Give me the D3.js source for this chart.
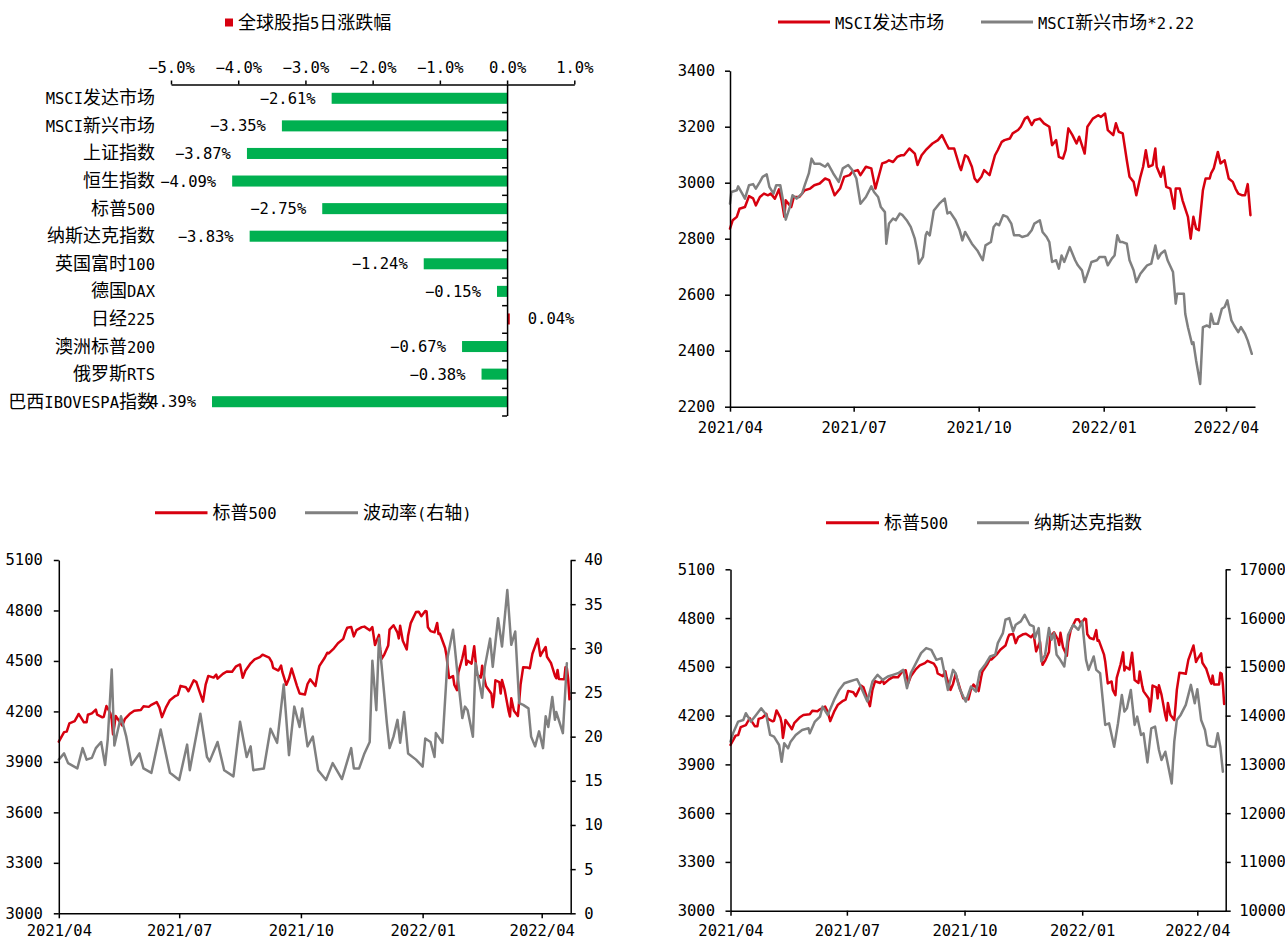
<!DOCTYPE html>
<html><head><meta charset="utf-8">
<script src="https://cdn.jsdelivr.net/npm/d3@7"></script>
<style>body{margin:0;background:#fff}svg{display:block}</style>
</head><body>
<svg id="c" width="1285" height="940"></svg>
<script>
// ---------------- DATA ----------------
const barTitle = "全球股指5日涨跌幅";
const barCategories = ["MSCI发达市场","MSCI新兴市场","上证指数","恒生指数","标普500","纳斯达克指数","英国富时100","德国DAX","日经225","澳洲标普200","俄罗斯RTS","巴西IBOVESPA指数"];
const barValues = [-2.61,-3.35,-3.87,-4.09,-2.75,-3.83,-1.24,-0.15,0.04,-0.67,-0.38,-4.39];
const barTicks = [-5,-4,-3,-2,-1,0,1];

const monthTicks = ["2021-04-01","2021-07-01","2021-10-01","2022-01-01","2022-04-01"];

const msciNames = ["MSCI发达市场","MSCI新兴市场*2.22"];
const msciTicks = [2200,2400,2600,2800,3000,3200,3400];
const msciDev = [["2021-04-01",2836],["2021-04-03",2866],["2021-04-06",2878],["2021-04-08",2907],["2021-04-12",2913],["2021-04-15",2952],["2021-04-18",2944],["2021-04-20",2919],["2021-04-23",2949],["2021-04-26",2961],["2021-04-29",2955],["2021-05-01",2961],["2021-05-04",2943],["2021-05-07",2976],["2021-05-09",2937],["2021-05-11",2878],["2021-05-12",2937],["2021-05-16",2913],["2021-05-18",2949],["2021-05-22",2949],["2021-05-26",2973],["2021-05-30",2979],["2021-06-02",2991],["2021-06-06",2997],["2021-06-10",3015],["2021-06-13",3009],["2021-06-17",2955],["2021-06-21",2979],["2021-06-24",3021],["2021-06-28",3027],["2021-06-30",3039],["2021-07-04",3045],["2021-07-06",3027],["2021-07-10",3057],["2021-07-14",3051],["2021-07-17",2979],["2021-07-20",3033],["2021-07-22",3069],["2021-07-25",3074],["2021-07-27",3080],["2021-07-30",3074],["2021-08-02",3092],["2021-08-05",3098],["2021-08-07",3098],["2021-08-11",3122],["2021-08-15",3104],["2021-08-17",3063],["2021-08-20",3098],["2021-08-23",3116],["2021-08-28",3140],["2021-09-01",3152],["2021-09-04",3170],["2021-09-07",3140],["2021-09-09",3122],["2021-09-13",3122],["2021-09-17",3057],["2021-09-18",3045],["2021-09-21",3098],["2021-09-23",3092],["2021-09-26",3057],["2021-09-28",3015],["2021-09-30",3003],["2021-10-03",3021],["2021-10-05",3045],["2021-10-09",3027],["2021-10-13",3098],["2021-10-15",3116],["2021-10-18",3146],["2021-10-20",3152],["2021-10-24",3158],["2021-10-26",3176],["2021-10-30",3188],["2021-11-01",3200],["2021-11-04",3229],["2021-11-06",3235],["2021-11-09",3206],["2021-11-11",3223],["2021-11-15",3229],["2021-11-18",3212],["2021-11-22",3200],["2021-11-24",3134],["2021-11-27",3152],["2021-11-29",3092],["2021-12-02",3086],["2021-12-04",3116],["2021-12-06",3194],["2021-12-09",3170],["2021-12-12",3140],["2021-12-14",3164],["2021-12-18",3104],["2021-12-20",3200],["2021-12-24",3229],["2021-12-28",3241],["2021-12-30",3235],["2022-01-02",3247],["2022-01-04",3188],["2022-01-08",3170],["2022-01-10",3212],["2022-01-12",3182],["2022-01-15",3176],["2022-01-18",3080],["2022-01-20",3021],["2022-01-23",3003],["2022-01-25",2955],["2022-01-28",3021],["2022-01-30",3057],["2022-02-01",3116],["2022-02-03",3057],["2022-02-06",3063],["2022-02-08",3122],["2022-02-09",3057],["2022-02-12",3021],["2022-02-14",3057],["2022-02-16",2985],["2022-02-19",2979],["2022-02-22",2907],["2022-02-23",2979],["2022-02-26",2979],["2022-02-28",2937],["2022-03-02",2907],["2022-03-04",2878],["2022-03-06",2800],["2022-03-08",2878],["2022-03-10",2836],["2022-03-12",2830],["2022-03-15",2973],["2022-03-17",3015],["2022-03-20",3015],["2022-03-21",3033],["2022-03-23",3051],["2022-03-26",3110],["2022-03-28",3069],["2022-03-31",3080],["2022-04-03",3015],["2022-04-06",3003],["2022-04-08",2979],["2022-04-10",2961],["2022-04-13",2955],["2022-04-15",2955],["2022-04-17",2995],["2022-04-19",2884]];
const msciEm = [["2021-04-01",2925],["2021-04-02",2967],["2021-04-06",2973],["2021-04-07",2987],["2021-04-10",2961],["2021-04-12",2943],["2021-04-15",2991],["2021-04-18",2995],["2021-04-20",2979],["2021-04-23",3003],["2021-04-25",3021],["2021-04-28",3030],["2021-04-30",2985],["2021-05-03",2961],["2021-05-05",2991],["2021-05-08",2991],["2021-05-10",2937],["2021-05-12",2868],["2021-05-15",2913],["2021-05-17",2955],["2021-05-20",2943],["2021-05-24",2961],["2021-05-26",2991],["2021-05-29",3033],["2021-05-31",3086],["2021-06-02",3068],["2021-06-06",3068],["2021-06-10",3057],["2021-06-12",3068],["2021-06-16",3033],["2021-06-20",3003],["2021-06-23",3051],["2021-06-27",3063],["2021-06-30",3045],["2021-07-03",3015],["2021-07-06",2925],["2021-07-10",2949],["2021-07-14",2987],["2021-07-16",2967],["2021-07-19",2949],["2021-07-21",2913],["2021-07-24",2895],["2021-07-25",2782],["2021-07-27",2854],["2021-07-30",2872],["2021-08-01",2866],["2021-08-04",2890],["2021-08-06",2884],["2021-08-09",2866],["2021-08-12",2842],["2021-08-15",2800],["2021-08-17",2752],["2021-08-18",2711],["2021-08-21",2735],["2021-08-23",2812],["2021-08-24",2824],["2021-08-26",2812],["2021-08-29",2901],["2021-09-02",2925],["2021-09-06",2943],["2021-09-08",2890],["2021-09-10",2895],["2021-09-14",2866],["2021-09-17",2830],["2021-09-19",2794],["2021-09-21",2824],["2021-09-26",2782],["2021-09-30",2758],["2021-10-04",2723],["2021-10-06",2776],["2021-10-10",2788],["2021-10-12",2842],["2021-10-14",2854],["2021-10-16",2848],["2021-10-19",2884],["2021-10-22",2878],["2021-10-25",2854],["2021-10-27",2812],["2021-10-31",2812],["2021-11-02",2806],["2021-11-06",2812],["2021-11-09",2830],["2021-11-11",2854],["2021-11-15",2866],["2021-11-17",2824],["2021-11-20",2806],["2021-11-22",2788],["2021-11-24",2717],["2021-11-27",2723],["2021-11-29",2693],["2021-12-01",2740],["2021-12-03",2717],["2021-12-07",2770],["2021-12-11",2723],["2021-12-13",2705],["2021-12-16",2687],["2021-12-18",2645],["2021-12-21",2687],["2021-12-23",2717],["2021-12-27",2723],["2021-12-29",2735],["2022-01-02",2735],["2022-01-04",2705],["2022-01-07",2729],["2022-01-09",2740],["2022-01-11",2812],["2022-01-13",2788],["2022-01-15",2788],["2022-01-18",2782],["2022-01-20",2723],["2022-01-23",2687],["2022-01-25",2645],["2022-01-28",2675],["2022-01-31",2693],["2022-02-02",2705],["2022-02-05",2711],["2022-02-08",2776],["2022-02-10",2729],["2022-02-12",2746],["2022-02-15",2758],["2022-02-17",2723],["2022-02-21",2681],["2022-02-23",2568],["2022-02-24",2603],["2022-02-27",2603],["2022-03-01",2603],["2022-03-02",2532],["2022-03-04",2484],["2022-03-07",2424],["2022-03-08",2430],["2022-03-10",2365],["2022-03-13",2281],["2022-03-15",2484],["2022-03-18",2490],["2022-03-20",2484],["2022-03-21",2532],["2022-03-23",2496],["2022-03-26",2496],["2022-03-29",2550],["2022-03-31",2556],["2022-04-02",2580],["2022-04-05",2508],["2022-04-07",2490],["2022-04-10",2466],["2022-04-12",2484],["2022-04-15",2460],["2022-04-17",2436],["2022-04-20",2389]];

const spNames = ["标普500","波动率(右轴)","纳斯达克指数"];
const spTicks = [3000,3300,3600,3900,4200,4500,4800,5100];
const vixTicks = [0,5,10,15,20,25,30,35,40];
const ndqTicks = [10000,11000,12000,13000,14000,15000,16000,17000];
const sp500 = [["2021-04-01",4020],["2021-04-05",4077],["2021-04-07",4080],["2021-04-09",4129],["2021-04-13",4142],["2021-04-15",4170],["2021-04-16",4185],["2021-04-20",4135],["2021-04-22",4135],["2021-04-23",4180],["2021-04-26",4188],["2021-04-29",4211],["2021-04-30",4181],["2021-05-04",4165],["2021-05-05",4168],["2021-05-07",4232],["2021-05-10",4188],["2021-05-11",4152],["2021-05-12",4063],["2021-05-13",4113],["2021-05-14",4173],["2021-05-18",4128],["2021-05-19",4116],["2021-05-21",4156],["2021-05-25",4188],["2021-05-28",4204],["2021-06-02",4208],["2021-06-04",4230],["2021-06-08",4227],["2021-06-10",4239],["2021-06-14",4255],["2021-06-16",4224],["2021-06-18",4166],["2021-06-21",4224],["2021-06-24",4267],["2021-06-28",4291],["2021-06-30",4298],["2021-07-02",4352],["2021-07-06",4344],["2021-07-08",4320],["2021-07-12",4385],["2021-07-14",4374],["2021-07-16",4327],["2021-07-19",4258],["2021-07-21",4359],["2021-07-23",4411],["2021-07-27",4401],["2021-07-29",4419],["2021-07-30",4395],["2021-08-03",4423],["2021-08-06",4437],["2021-08-10",4436],["2021-08-13",4468],["2021-08-16",4479],["2021-08-18",4400],["2021-08-20",4442],["2021-08-24",4486],["2021-08-27",4509],["2021-08-31",4523],["2021-09-02",4537],["2021-09-07",4520],["2021-09-09",4493],["2021-09-10",4459],["2021-09-14",4443],["2021-09-16",4473],["2021-09-17",4433],["2021-09-20",4358],["2021-09-22",4395],["2021-09-24",4455],["2021-09-28",4352],["2021-09-30",4307],["2021-10-04",4300],["2021-10-06",4363],["2021-10-08",4391],["2021-10-12",4351],["2021-10-14",4438],["2021-10-15",4471],["2021-10-19",4519],["2021-10-21",4549],["2021-10-22",4545],["2021-10-26",4575],["2021-10-29",4605],["2021-11-02",4631],["2021-11-04",4680],["2021-11-05",4697],["2021-11-08",4702],["2021-11-10",4646],["2021-11-12",4683],["2021-11-16",4701],["2021-11-18",4704],["2021-11-22",4682],["2021-11-24",4701],["2021-11-26",4595],["2021-11-29",4655],["2021-11-30",4567],["2021-12-01",4513],["2021-12-03",4538],["2021-12-06",4592],["2021-12-07",4686],["2021-12-10",4712],["2021-12-13",4668],["2021-12-14",4634],["2021-12-15",4709],["2021-12-17",4620],["2021-12-20",4568],["2021-12-21",4649],["2021-12-23",4725],["2021-12-27",4791],["2021-12-29",4793],["2021-12-31",4766],["2022-01-03",4797],["2022-01-04",4794],["2022-01-05",4700],["2022-01-07",4677],["2022-01-10",4670],["2022-01-12",4726],["2022-01-13",4660],["2022-01-14",4663],["2022-01-18",4577],["2022-01-19",4533],["2022-01-21",4398],["2022-01-24",4410],["2022-01-25",4357],["2022-01-27",4326],["2022-01-28",4432],["2022-01-31",4516],["2022-02-02",4589],["2022-02-03",4477],["2022-02-04",4501],["2022-02-07",4484],["2022-02-09",4587],["2022-02-10",4504],["2022-02-11",4419],["2022-02-14",4401],["2022-02-15",4472],["2022-02-17",4380],["2022-02-18",4349],["2022-02-22",4305],["2022-02-23",4225],["2022-02-24",4288],["2022-02-25",4385],["2022-02-28",4374],["2022-03-01",4306],["2022-03-02",4387],["2022-03-04",4329],["2022-03-07",4201],["2022-03-08",4170],["2022-03-09",4278],["2022-03-11",4204],["2022-03-14",4173],["2022-03-15",4262],["2022-03-16",4358],["2022-03-18",4463],["2022-03-21",4461],["2022-03-23",4457],["2022-03-25",4543],["2022-03-29",4631],["2022-03-31",4530],["2022-04-01",4546],["2022-04-04",4583],["2022-04-05",4525],["2022-04-07",4500],["2022-04-08",4488],["2022-04-11",4413],["2022-04-12",4397],["2022-04-13",4446],["2022-04-14",4392],["2022-04-18",4391],["2022-04-19",4463],["2022-04-20",4459],["2022-04-21",4394],["2022-04-22",4272]];
const vix = [["2021-04-01",17.4],["2021-04-05",18.1],["2021-04-08",17.0],["2021-04-15",16.4],["2021-04-19",18.7],["2021-04-22",17.4],["2021-04-26",17.6],["2021-04-29",18.7],["2021-05-03",19.4],["2021-05-06",16.8],["2021-05-08",19.7],["2021-05-11",27.6],["2021-05-13",19.0],["2021-05-18",22.3],["2021-05-22",20.0],["2021-05-26",16.8],["2021-06-01",18.1],["2021-06-04",16.4],["2021-06-10",15.9],["2021-06-17",20.8],["2021-06-24",15.9],["2021-07-01",15.1],["2021-07-07",19.1],["2021-07-09",16.2],["2021-07-17",22.6],["2021-07-22",17.7],["2021-07-24",17.2],["2021-07-30",19.4],["2021-08-04",16.2],["2021-08-11",15.5],["2021-08-16",21.7],["2021-08-21",17.7],["2021-08-24",18.9],["2021-08-26",16.2],["2021-09-03",16.4],["2021-09-08",20.9],["2021-09-13",19.3],["2021-09-18",25.9],["2021-09-22",17.9],["2021-09-26",23.4],["2021-09-30",21.1],["2021-10-02",23.2],["2021-10-06",18.9],["2021-10-10",20.0],["2021-10-14",16.2],["2021-10-20",15.1],["2021-10-25",17.0],["2021-11-01",15.2],["2021-11-08",18.7],["2021-11-10",16.4],["2021-11-14",16.4],["2021-11-18",18.1],["2021-11-22",19.4],["2021-11-24",28.6],["2021-11-27",23.0],["2021-11-29",31.1],["2021-12-01",28.0],["2021-12-05",21.5],["2021-12-07",18.7],["2021-12-10",20.0],["2021-12-13",21.9],["2021-12-15",19.3],["2021-12-18",22.8],["2021-12-21",18.1],["2021-12-27",17.4],["2022-01-01",16.6],["2022-01-03",19.8],["2022-01-07",19.4],["2022-01-10",17.7],["2022-01-11",20.4],["2022-01-16",19.3],["2022-01-20",29.1],["2022-01-24",32.1],["2022-01-27",27.6],["2022-01-31",22.1],["2022-02-02",23.4],["2022-02-04",23.0],["2022-02-08",20.0],["2022-02-10",28.3],["2022-02-15",24.4],["2022-02-17",27.9],["2022-02-21",31.1],["2022-02-23",27.9],["2022-02-27",33.4],["2022-03-02",30.2],["2022-03-06",36.6],["2022-03-09",30.4],["2022-03-12",31.9],["2022-03-15",23.8],["2022-03-18",23.6],["2022-03-22",23.2],["2022-03-24",20.0],["2022-03-27",18.9],["2022-03-30",20.6],["2022-04-02",18.7],["2022-04-04",22.3],["2022-04-06",21.1],["2022-04-09",24.5],["2022-04-11",21.9],["2022-04-12",22.8],["2022-04-17",20.4],["2022-04-20",28.3]];
const nasdaq = [["2021-04-01",13466],["2021-04-03",13637],["2021-04-07",13877],["2021-04-11",13911],["2021-04-13",14048],["2021-04-17",13877],["2021-04-21",14014],["2021-04-25",14151],["2021-04-29",14014],["2021-05-02",13603],["2021-05-05",13569],["2021-05-09",13397],["2021-05-11",13055],["2021-05-13",13432],["2021-05-16",13329],["2021-05-18",13466],["2021-05-22",13603],["2021-05-27",13706],["2021-06-01",13740],["2021-06-02",13637],["2021-06-06",13877],["2021-06-10",13980],["2021-06-12",14185],["2021-06-16",14014],["2021-06-21",14322],["2021-06-25",14527],["2021-06-29",14664],["2021-07-03",14699],["2021-07-07",14733],["2021-07-09",14747],["2021-07-13",14527],["2021-07-17",14288],["2021-07-21",14699],["2021-07-25",14836],["2021-07-29",14733],["2021-08-02",14801],["2021-08-06",14836],["2021-08-10",14870],["2021-08-14",14938],["2021-08-17",14562],["2021-08-20",14870],["2021-08-24",15075],["2021-08-28",15281],["2021-09-01",15384],["2021-09-05",15349],["2021-09-09",15144],["2021-09-13",15178],["2021-09-18",14527],["2021-09-22",14938],["2021-09-24",14870],["2021-09-27",14562],["2021-09-30",14390],["2021-10-02",14288],["2021-10-06",14596],["2021-10-10",14493],["2021-10-13",14904],["2021-10-17",15041],["2021-10-21",15212],["2021-10-25",15247],["2021-10-27",15486],["2021-10-31",15692],["2021-11-02",15966],["2021-11-05",16000],["2021-11-08",15726],["2021-11-10",15863],["2021-11-14",15932],["2021-11-17",16068],["2021-11-21",15863],["2021-11-24",15829],["2021-11-25",15589],["2021-11-28",15795],["2021-11-30",15110],["2021-12-03",15247],["2021-12-06",15795],["2021-12-08",15555],["2021-12-10",15692],["2021-12-12",15247],["2021-12-14",15178],["2021-12-18",15007],["2021-12-21",15658],["2021-12-25",15863],["2021-12-29",15760],["2022-01-01",15932],["2022-01-04",15144],["2022-01-06",14938],["2022-01-10",15212],["2022-01-12",14938],["2022-01-15",14870],["2022-01-19",13808],["2022-01-22",13843],["2022-01-26",13363],["2022-01-29",13843],["2022-02-01",14425],["2022-02-03",14082],["2022-02-05",14151],["2022-02-08",14527],["2022-02-11",13808],["2022-02-13",13980],["2022-02-16",13603],["2022-02-18",13637],["2022-02-21",13041],["2022-02-24",13740],["2022-02-27",13774],["2022-03-02",13295],["2022-03-04",13089],["2022-03-07",13260],["2022-03-12",12610],["2022-03-14",13466],["2022-03-16",13911],["2022-03-19",14014],["2022-03-23",14219],["2022-03-27",14630],["2022-03-30",14253],["2022-04-01",14541],["2022-04-04",13911],["2022-04-07",13705],["2022-04-09",13397],["2022-04-12",13363],["2022-04-15",13363],["2022-04-17",13637],["2022-04-19",13363],["2022-04-21",12849]];

// ---------------- RENDER ----------------
const RED = "#D7000F", GRAY = "#808080", GREEN = "#00B050";
const LAT = "'DejaVu Sans Mono', monospace";
const CJKF = "'Noto Sans CJK SC', sans-serif";
const parse = d3.timeParse("%Y-%m-%d");
const svg = d3.select("#c");
const RX = /[\u3000-\u9fff\uff00-\uffef]+|[^\u3000-\u9fff\uff00-\uffef]+/g;
const intFmt = d3.format("d");

function mixedText(g, str, x, y, anchor) {
  const t = g.append("text").attr("x", x).attr("y", y).attr("text-anchor", anchor || "start").attr("fill", "#000");
  str.match(RX).forEach(s => {
    const cjk = /[\u3000-\u9fff\uff00-\uffef]/.test(s);
    t.append("tspan").text(s).style("font-family", cjk ? CJKF : LAT).style("font-size", (cjk ? 18 : 15.5) + "px");
  });
  return t;
}
function styleAxis(g) {
  g.attr("font-family", null).attr("font-size", null);
  g.selectAll("path.domain").attr("stroke", "#000").attr("stroke-width", 1.5);
  g.selectAll(".tick line").attr("stroke", "#000").attr("stroke-width", 1.5);
  g.selectAll(".tick text").attr("fill", "#000").style("font-family", LAT).style("font-size", "15.5px");
}

// ---- Panel 1: bar chart ----
(function () {
  const g = svg.append("g");
  const xb = d3.scaleLinear().domain([-5, 1]).range([171, 574.3]);
  const yb = d3.scaleBand().domain(barCategories).range([84.5, 415.5]).paddingInner(0.6).paddingOuter(0.3);
  const step = yb.step();
  g.selectAll("rect.bar").data(barCategories).enter().append("rect")
    .attr("x", (c, i) => xb(Math.min(0, barValues[i])))
    .attr("width", (c, i) => Math.abs(xb(barValues[i]) - xb(0)))
    .attr("y", c => yb(c)).attr("height", yb.bandwidth())
    .attr("fill", (c, i) => barValues[i] < 0 ? GREEN : RED);
  const ax = d3.axisTop(xb).tickValues(barTicks).tickSize(4).tickSizeOuter(0).tickPadding(8)
    .tickFormat(v => (v < 0 ? "−" : "") + Math.abs(v).toFixed(1) + "%");
  const ga = g.append("g").attr("transform", "translate(0,84.5)").call(ax);
  styleAxis(ga);
  const x0 = xb(0);
  const yAx = d3.scaleLinear().domain([0, barCategories.length]).range([84.5, 84.5 + step * barCategories.length]);
  const gv = g.append("g").attr("transform", `translate(${x0},0)`)
    .call(d3.axisLeft(yAx).tickValues(d3.range(1, barCategories.length + 1)).tickSize(5).tickSizeOuter(0).tickFormat(""));
  styleAxis(gv);
  barCategories.forEach((c, i) => {
    const cy = yb(c) + yb.bandwidth() / 2;
    mixedText(g, c, 155, cy + 6, "end");
    const v = barValues[i];
    g.append("text").attr("x", v < 0 ? xb(v) - 16 : xb(v) + 18).attr("y", cy + 5.5)
      .attr("text-anchor", v < 0 ? "end" : "start").attr("fill", "#000")
      .style("font-family", LAT).style("font-size", "15.5px")
      .text((v < 0 ? "−" : "") + Math.abs(v).toFixed(2) + "%");
  });
  g.append("rect").attr("x", 225).attr("y", 18.5).attr("width", 8).attr("height", 8).attr("fill", RED);
  mixedText(g, barTitle, 238, 29, "start");
})();

// ---- generic line panel helpers ----
function timeScale(left, tick2204, axisEnd) {
  const base = d3.scaleTime().domain([parse("2021-04-01"), parse("2022-04-01")]).range([left, tick2204]);
  return base.copy().domain([parse("2021-04-01"), base.invert(axisEnd)]).range([left, axisEnd]);
}
function xAxis(xs, y0, pad) {
  const gx = svg.append("g").attr("transform", `translate(0,${y0})`)
    .call(d3.axisBottom(xs).tickValues(monthTicks.map(parse)).tickSize(5).tickSizeOuter(0).tickPadding(pad)
      .tickFormat(d3.timeFormat("%Y/%m")));
  styleAxis(gx);
}
function yAxis(ys, x0, ticks, side, pad) {
  const a = (side === "left" ? d3.axisLeft(ys) : d3.axisRight(ys)).tickValues(ticks).tickFormat(intFmt)
    .tickSize(5).tickSizeOuter(0).tickPadding(pad);
  const gy = svg.append("g").attr("transform", `translate(${x0},0)`).call(a);
  styleAxis(gy);
}
function series(data, xs, ys, color) {
  svg.append("path").datum(data)
    .attr("d", d3.line().x(d => xs(parse(d[0]))).y(d => ys(d[1])))
    .attr("fill", "none").attr("stroke", color).attr("stroke-width", 2.5)
    .attr("stroke-linejoin", "round").attr("stroke-linecap", "round");
}
function legendItem(x1, x2, y, color, label) {
  svg.append("line").attr("x1", x1).attr("x2", x2).attr("y1", y).attr("y2", y)
    .attr("stroke", color).attr("stroke-width", 3);
  mixedText(svg, label, x2 + 5, y + 6.5, "start");
}

// ---- Panel 2: MSCI ----
(function () {
  const xs = timeScale(730, 1226, 1255);
  const ys = d3.scaleLinear().domain([2200, 3400]).range([406.7, 70.7]);
  series(msciDev, xs, ys, RED);
  series(msciEm, xs, ys, GRAY);
  yAxis(ys, 730, msciTicks, "left", 10);
  xAxis(xs, 406.7, 10);
  legendItem(778, 830, 22, RED, msciNames[0]);
  legendItem(981, 1033, 22, GRAY, msciNames[1]);
})();

// ---- Panel 3: S&P 500 vs VIX ----
(function () {
  const xs = timeScale(58.8, 541.7, 570.7);
  const yl = d3.scaleLinear().domain([3000, 5100]).range([913.3, 560]);
  const yr = d3.scaleLinear().domain([0, 40]).range([913.3, 560]);
  series(sp500, xs, yl, RED);
  series(vix, xs, yr, GRAY);
  yAxis(yl, 58.8, spTicks, "left", 11);
  yAxis(yr, 570.7, vixTicks, "right", 8.5);
  xAxis(xs, 913.3, 6.5);
  legendItem(155, 207.5, 512.7, RED, spNames[0]);
  legendItem(305, 358, 512.7, GRAY, spNames[1]);
})();

// ---- Panel 4: S&P 500 vs Nasdaq ----
(function () {
  const xs = timeScale(730.5, 1197.3, 1225.7);
  const yl = d3.scaleLinear().domain([3000, 5100]).range([910.7, 569.3]);
  const yr = d3.scaleLinear().domain([10000, 17000]).range([910.7, 569.3]);
  series(sp500, xs, yl, RED);
  series(nasdaq, xs, yr, GRAY);
  yAxis(yl, 730.5, spTicks, "left", 10.5);
  yAxis(yr, 1225.7, ndqTicks, "right", 8.5);
  xAxis(xs, 910.7, 9);
  legendItem(826, 879, 522.7, RED, spNames[0]);
  legendItem(977, 1029, 522.7, GRAY, spNames[2]);
})();
</script>
</body></html>
